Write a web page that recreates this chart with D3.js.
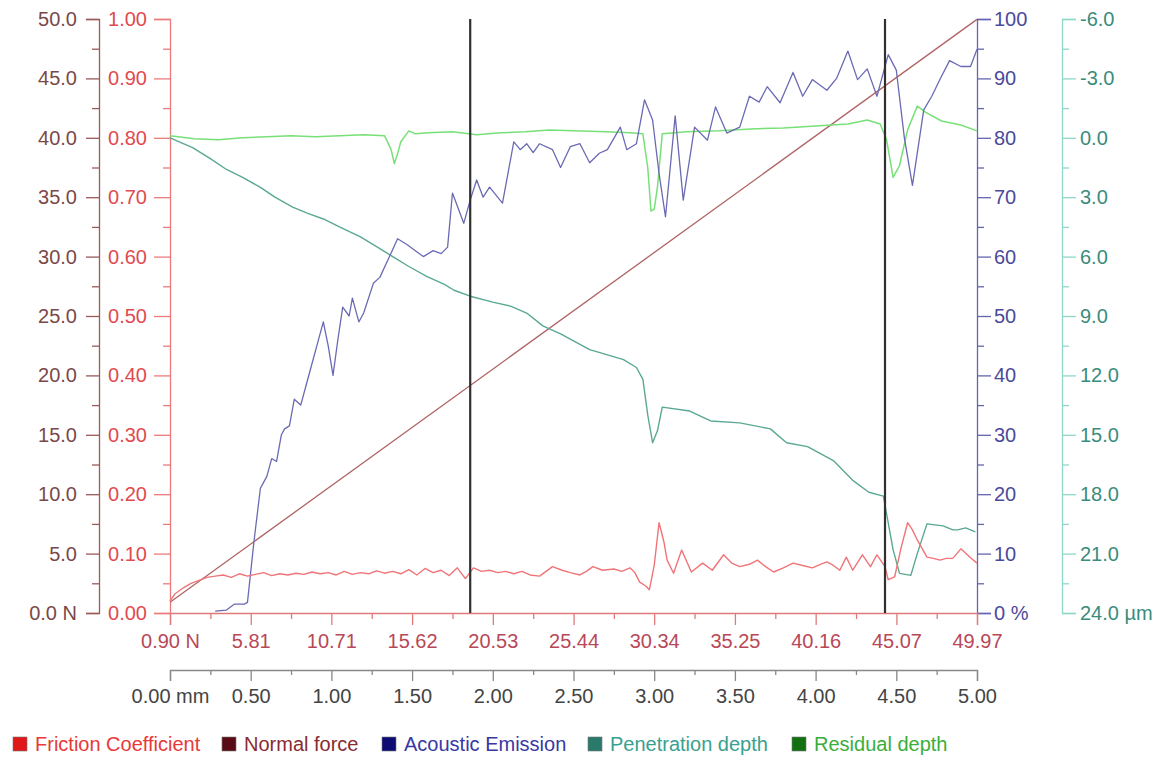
<!DOCTYPE html>
<html><head><meta charset="utf-8">
<script src="https://cdn.jsdelivr.net/npm/d3@7/dist/d3.min.js"></script>
<style>
html,body{margin:0;padding:0;background:#fff;}
svg text{font-family:"Liberation Sans",Arial,sans-serif;}
</style></head>
<body>
<svg id="chart" width="1159" height="766"></svg>
<script>
// ---------- DATA ----------
const forceTicks = ["0.0 N","5.0","10.0","15.0","20.0","25.0","30.0","35.0","40.0","45.0","50.0"];
const frictionTicks = ["0.00","0.10","0.20","0.30","0.40","0.50","0.60","0.70","0.80","0.90","1.00"];
const aeTicks = ["0 %","10","20","30","40","50","60","70","80","90","100"];
const depthTicks = ["-6.0","-3.0","0.0","3.0","6.0","9.0","12.0","15.0","18.0","21.0","24.0 µm"];
const loadTicks = ["0.90 N","5.81","10.71","15.62","20.53","25.44","30.34","35.25","40.16","45.07","49.97"];
const distTicks = ["0.00 mm","0.50","1.00","1.50","2.00","2.50","3.00","3.50","4.00","4.50","5.00"];

const seriesNames = ["Friction Coefficient","Normal force","Acoustic Emission","Penetration depth","Residual depth"];

// Normal force: linear ramp (distance mm, force N)
const normalPos = [0, 5];
const normalVal = [0.90, 49.97];

// Friction coefficient (distance mm, value)
const frictionPos = [0.00,0.03,0.08,0.13,0.18,0.23,0.28,0.33,0.38,0.43,0.48,0.53,0.58,0.63,0.68,0.73,0.78,0.83,0.88,0.93,0.98,1.03,1.08,1.13,1.18,1.23,1.28,1.33,1.38,1.43,1.48,1.53,1.58,1.63,1.68,1.73,1.78,1.83,1.88,1.93,1.98,2.03,2.08,2.13,2.18,2.23,2.29,2.33,2.37,2.43,2.48,2.54,2.58,2.62,2.68,2.75,2.80,2.85,2.88,2.91,2.95,2.97,3.00,3.03,3.06,3.08,3.12,3.17,3.23,3.30,3.36,3.43,3.48,3.53,3.59,3.64,3.69,3.74,3.80,3.86,3.92,3.98,4.03,4.07,4.11,4.15,4.19,4.23,4.29,4.34,4.38,4.43,4.45,4.49,4.53,4.57,4.60,4.63,4.69,4.73,4.77,4.81,4.85,4.90,4.96,5.00];
const frictionVal = [0.020,0.032,0.042,0.050,0.055,0.060,0.062,0.064,0.060,0.066,0.062,0.065,0.068,0.063,0.066,0.064,0.067,0.065,0.069,0.066,0.068,0.064,0.070,0.065,0.068,0.066,0.071,0.067,0.070,0.066,0.073,0.064,0.075,0.068,0.072,0.063,0.076,0.058,0.076,0.070,0.072,0.068,0.070,0.066,0.070,0.064,0.062,0.070,0.078,0.072,0.068,0.064,0.070,0.078,0.072,0.074,0.070,0.076,0.068,0.052,0.045,0.039,0.080,0.152,0.120,0.089,0.067,0.106,0.069,0.084,0.072,0.098,0.084,0.078,0.082,0.089,0.078,0.069,0.076,0.084,0.080,0.076,0.082,0.086,0.080,0.072,0.094,0.072,0.098,0.078,0.098,0.078,0.056,0.061,0.110,0.152,0.140,0.123,0.094,0.092,0.089,0.092,0.092,0.108,0.093,0.084];

// Acoustic emission (distance mm, %)
const aePos = [0.28,0.35,0.40,0.46,0.48,0.52,0.56,0.58,0.60,0.63,0.66,0.69,0.71,0.74,0.77,0.81,0.84,0.88,0.91,0.95,0.98,1.01,1.04,1.07,1.11,1.13,1.17,1.20,1.26,1.30,1.36,1.41,1.47,1.52,1.57,1.63,1.68,1.72,1.75,1.82,1.86,1.90,1.94,1.98,2.06,2.13,2.17,2.21,2.25,2.29,2.37,2.42,2.48,2.54,2.60,2.66,2.71,2.79,2.83,2.89,2.94,2.99,3.03,3.07,3.13,3.18,3.25,3.33,3.38,3.45,3.53,3.59,3.65,3.70,3.78,3.86,3.92,3.98,4.07,4.13,4.20,4.26,4.32,4.38,4.45,4.50,4.55,4.60,4.67,4.72,4.77,4.83,4.90,4.96,5.00];
const aeVal = [0.3,0.5,1.5,1.5,1.8,12,21,22,23,26,25.5,30,31,31.5,36,35,38,42,45,49,45,40,46,51.5,50,53,49,50.5,55.5,56.5,60,63,62,61,60,61,60.5,61.6,70.7,65.6,69.5,72.9,70,71.7,69,79.3,78,79,77.5,79,78,75,78.5,79,75.8,77.4,78,81.8,78,79,86.4,83,74,66.7,83.7,69.5,81.8,79.6,85.2,80.8,81.8,87,86,88.6,85.9,91,87,89.8,88,90,94.6,89.8,91.6,87,94,91.4,80,72,84.7,87,89.8,93,92,92,94.9];

// Penetration depth (distance mm, µm)
const penPos = [0.00,0.14,0.25,0.35,0.45,0.56,0.65,0.76,0.85,0.95,1.05,1.18,1.28,1.38,1.48,1.59,1.70,1.76,1.86,2.00,2.11,2.21,2.31,2.42,2.60,2.81,2.89,2.93,2.96,2.99,3.02,3.05,3.22,3.35,3.53,3.72,3.82,3.95,4.11,4.23,4.33,4.42,4.44,4.48,4.52,4.59,4.63,4.69,4.79,4.85,4.88,4.93,4.99];
const penVal = [0.0,0.5,1.05,1.6,2.0,2.5,3.0,3.5,3.8,4.1,4.5,5.0,5.5,6.0,6.5,7.0,7.4,7.7,8.0,8.3,8.5,8.85,9.5,9.9,10.7,11.2,11.6,12.2,14.0,15.4,14.8,13.6,13.8,14.3,14.4,14.7,15.4,15.6,16.3,17.3,17.9,18.1,19.0,20.8,22.0,22.1,21.0,19.5,19.6,19.8,19.8,19.7,19.9];

// Residual depth (distance mm, µm)
const resPos = [0.00,0.15,0.30,0.45,0.60,0.75,0.90,1.05,1.20,1.33,1.37,1.39,1.41,1.43,1.48,1.52,1.60,1.75,1.90,2.05,2.20,2.35,2.50,2.70,2.85,2.93,2.96,2.98,3.00,3.02,3.05,3.20,3.40,3.60,3.80,4.00,4.20,4.32,4.40,4.44,4.48,4.52,4.57,4.63,4.68,4.78,4.90,5.00];
const resVal = [-0.1,0.05,0.1,0.0,-0.05,-0.1,-0.05,-0.1,-0.15,-0.1,0.6,1.3,0.8,0.2,-0.35,-0.2,-0.25,-0.3,-0.15,-0.25,-0.3,-0.4,-0.35,-0.3,-0.25,-0.2,1.5,3.7,3.6,2.5,-0.2,-0.3,-0.35,-0.45,-0.5,-0.6,-0.7,-0.9,-0.7,0.1,2.0,1.4,-0.4,-1.6,-1.3,-0.85,-0.65,-0.35];

// Event markers (distance mm)
const markerPos = [1.86, 4.43];

// ---------- LAYOUT ----------
const L = 170, R = 977, T = 19, B = 613;
const svg = d3.select("#chart");
const FS = 20;

const x = d3.scaleLinear().domain([0,5]).range([L,R]);
const xLoad = d3.scaleLinear().domain([0.90,49.97]).range([L,R]);
const yForce = d3.scaleLinear().domain([0,50]).range([B,T]);
const yFric = d3.scaleLinear().domain([0,1]).range([B,T]);
const yAE = d3.scaleLinear().domain([0,100]).range([B,T]);
const yDepth = d3.scaleLinear().domain([-6,24]).range([T,B]);

function midpoints(vals){ const m=[]; for(let i=0;i<vals.length-1;i++) m.push((vals[i]+vals[i+1])/2); return m; }

function drawAxis(gen, scale, labels, color, labelColor, major, minor, pad, transform){
  const vals = labels.map(s => parseFloat(s));
  const g = svg.append("g").attr("transform", transform);
  g.call(gen(scale).tickValues(midpoints(vals)).tickSize(minor).tickFormat(""));
  const g2 = svg.append("g").attr("transform", transform);
  g2.call(gen(scale).tickValues(vals).tickSize(major).tickPadding(pad).tickFormat((d,i)=>labels[i]));
  [g,g2].forEach(gg=>{
    gg.selectAll("path").attr("stroke", color).attr("stroke-width",1.3);
    gg.selectAll("line").attr("stroke", color).attr("stroke-width",1.3);
    gg.selectAll("text").attr("fill", labelColor).style("font-size", FS+"px").style("font-family","'Liberation Sans',Arial,sans-serif");
    gg.attr("font-size", null).attr("font-family", null);
  });
  g.select(".domain").remove();
  return g2;
}

// Left: Normal force axis
drawAxis(d3.axisLeft, yForce, forceTicks, "#9a5a5a", "#7a4848", 13, 7, 9, "translate(99,0)");
// Left: Friction axis
drawAxis(d3.axisLeft, yFric, frictionTicks, "#ec7a7a", "#e04a50", 16, 7, 7, `translate(${L},0)`);
// Right: AE
drawAxis(d3.axisRight, yAE, aeTicks, "#6464b0", "#4a4a9a", 14, 7, 3, `translate(${R},0)`);
// Right: depth
drawAxis(d3.axisRight, yDepth, depthTicks, "#8fd8c8", "#3a8c7c", 14, 7, 4, "translate(1062,0)");
// Bottom: load
drawAxis(d3.axisBottom, xLoad, loadTicks, "#e07a7a", "#b84858", 12, 6, 9, `translate(0,${B})`);
// Bottom: distance
drawAxis(d3.axisBottom, x, distTicks, "#888888", "#444444", 11, 5, 8, "translate(0,670)");

// ---------- SERIES ----------
const plot = svg.append("g");
function drawSeries(pos, val, y, color, w){
  const pts = pos.map((p,i)=>[p,val[i]]);
  plot.append("path").datum(pts)
    .attr("fill","none").attr("stroke",color).attr("stroke-width",w).attr("stroke-linejoin","round")
    .attr("d", d3.line().x(d=>x(d[0])).y(d=>y(d[1])));
}
drawSeries(normalPos, normalVal, yForce, "#b06464", 1.3);
drawSeries(penPos, penVal, yDepth, "#5aa894", 1.4);
drawSeries(resPos, resVal, yDepth, "#78e078", 1.5);
drawSeries(aePos, aeVal, yAE, "#6a6ab4", 1.3);
drawSeries(frictionPos, frictionVal, yFric, "#f07478", 1.4);

// markers
plot.selectAll("line.marker").data(markerPos).enter().append("line")
  .attr("x1",d=>x(d)).attr("x2",d=>x(d)).attr("y1",T).attr("y2",B)
  .attr("stroke","#303030").attr("stroke-width",2.2);

// ---------- LEGEND ----------
const legSq = ["#e01818","#5a0a14","#0c0c72","#2a7a6c","#127012"];
const legTx = ["#e83838","#8a2a32","#3838a4","#3aa090","#3aae3a"];
const legX = [13, 222, 382, 588, 792];
const lg = svg.append("g");
seriesNames.forEach((n,i)=>{
  lg.append("rect").attr("x",legX[i]).attr("y",737).attr("width",14).attr("height",14).attr("fill",legSq[i]).attr("stroke","#777").attr("stroke-width",0.6);
  lg.append("text").attr("x",legX[i]+22).attr("y",751).attr("fill",legTx[i]).style("font-size","20px").text(n);
});
</script>
</body></html>
